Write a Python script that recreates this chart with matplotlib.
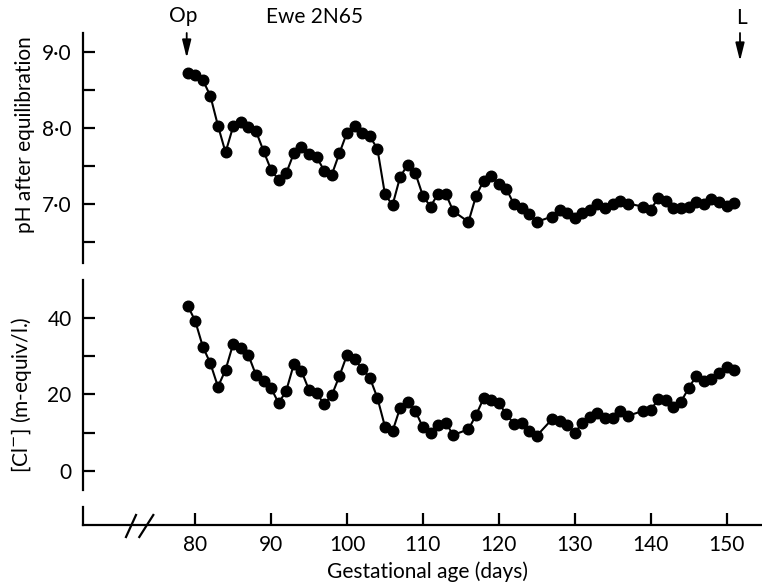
import matplotlib
matplotlib.use("Agg")
import matplotlib.pyplot as plt
from matplotlib.lines import Line2D
from matplotlib.patches import FancyArrowPatch

plt.rcParams['font.family'] = ['Lato', 'DejaVu Sans']

# Sampling days (gestational age) and measurements for ewe 2N65
days = [79, 80, 81, 82, 83, 84, 85, 86, 87, 88, 89, 90, 91, 92, 93, 94, 95, 96,
        97, 98, 99, 100, 101, 102, 103, 104, 105, 106, 107, 108, 109, 110, 111,
        112, 113, 114, 116, 117, 118, 119, 120, 121, 122, 123, 124, 125, 127,
        128, 129, 130, 131, 132, 133, 134, 135, 136, 137, 139, 140, 141, 142,
        143, 144, 145, 146, 147, 148, 149, 150, 151]

ph = [8.72, 8.70, 8.63, 8.42, 8.03, 7.68, 8.02, 8.08, 8.01, 7.96, 7.70, 7.45,
      7.32, 7.41, 7.67, 7.75, 7.66, 7.62, 7.44, 7.39, 7.67, 7.94, 8.02, 7.93,
      7.89, 7.73, 7.13, 6.99, 7.36, 7.52, 7.41, 7.11, 6.97, 7.14, 7.14, 6.91,
      6.77, 7.11, 7.31, 7.37, 7.26, 7.20, 7.00, 6.95, 6.87, 6.77, 6.84, 6.93,
      6.88, 6.82, 6.89, 6.93, 7.01, 6.95, 7.00, 7.04, 7.01, 6.97, 6.93, 7.08,
      7.04, 6.95, 6.95, 6.97, 7.03, 7.01, 7.07, 7.03, 6.98, 7.02]

chloride = [43.2, 39.2, 32.5, 28.1, 22.0, 26.4, 33.2, 32.2, 30.3, 25.1, 23.6,
            21.6, 17.7, 21.0, 27.9, 26.1, 21.1, 20.3, 17.4, 19.8, 24.8, 30.3,
            29.2, 26.6, 24.4, 19.1, 11.6, 10.4, 16.5, 18.0, 15.7, 11.4, 9.8,
            12.0, 12.6, 9.4, 10.9, 14.6, 19.0, 18.5, 17.7, 14.8, 12.3, 12.6,
            10.4, 9.2, 13.5, 13.1, 12.0, 10.0, 12.5, 14.2, 15.1, 13.8, 13.8,
            15.7, 14.4, 15.7, 15.9, 18.7, 18.5, 16.8, 18.1, 21.6, 24.8, 23.5,
            23.9, 25.5, 27.1, 26.4]

ph_ticks = [6.5, 7.0, 7.5, 8.0, 8.5, 9.0]
ph_ticklabels = ['', '7·0', '', '8·0', '', '9·0']
cl_ticks = [0, 10, 20, 30, 40]
cl_ticklabels = ['0', '', '20', '', '40']
age_ticks = [80, 90, 100, 110, 120, 130, 140, 150]
age_ticklabels = ['80', '90', '100', '110', '120', '130', '140', '150']

W, H = 762, 583
fig = plt.figure(figsize=(W / 100, H / 100), dpi=100)


def box(x0, y0, x1, y1):
    """Axes rectangle from pixel edges measured from the top-left corner."""
    return [x0 / W, 1 - y1 / H, (x1 - x0) / W, (y1 - y0) / H]


XLIM = (65.18, 154.54)
LW = 1.6
TICK_LEN = 8.5
FS = 15

ax_ph = fig.add_axes(box(82.7, 33, 761, 263))
ax_cl = fig.add_axes(box(82.7, 280, 761, 490))
ax_x = fig.add_axes(box(82.7, 506.5, 761, 525))

for ax in (ax_ph, ax_cl):
    ax.set_xlim(*XLIM)
    for side in ('top', 'right', 'bottom'):
        ax.spines[side].set_visible(False)
    ax.spines['left'].set_linewidth(LW)
    ax.set_xticks([])
    ax.tick_params(axis='y', direction='in', length=TICK_LEN, width=LW,
                   pad=8, labelsize=FS)
    ax.patch.set_alpha(0)

ax_ph.set_ylim(6.231, 9.245)
ax_ph.set_yticks(ph_ticks)
ax_ph.set_yticklabels(ph_ticklabels)
ax_ph.plot(days, ph, '-o', color='black', lw=1.5, ms=7.6, clip_on=False)

ax_cl.set_ylim(-4.96, 49.87)
ax_cl.set_yticks(cl_ticks)
ax_cl.set_yticklabels(cl_ticklabels)
ax_cl.plot(days, chloride, '-o', color='black', lw=1.5, ms=7.6, clip_on=False)

# Shared gestational-age axis with a broken origin
ax_x.set_xlim(*XLIM)
ax_x.set_ylim(0, 1)
ax_x.patch.set_alpha(0)
for side in ('top', 'right'):
    ax_x.spines[side].set_visible(False)
ax_x.spines['left'].set_linewidth(LW)
ax_x.spines['bottom'].set_linewidth(LW)
ax_x.set_yticks([])
ax_x.set_xticks(age_ticks)
ax_x.set_xticklabels(age_ticklabels)
ax_x.tick_params(axis='x', direction='in', length=TICK_LEN, width=LW,
                 pad=7, labelsize=FS)

for (xa, ya, xb, yb) in [(126, 537, 136, 515), (139.3, 537, 153.3, 515)]:
    fig.add_artist(Line2D([xa / W, xb / W], [1 - ya / H, 1 - yb / H],
                          transform=fig.transFigure, color='black', lw=LW))

# Axis titles
fig.text(25 / W, 1 - 135 / H, 'pH after equilibration', rotation=90,
         ha='center', va='center', fontsize=FS)
fig.text(22 / W, 1 - 395 / H, '[Cl$^{-}$] (m-equiv/l.)', rotation=90,
         ha='center', va='center', fontsize=FS)
fig.text(427.5 / W, 1 - 572 / H, 'Gestational age (days)',
         ha='center', va='center', fontsize=FS)

# Heading and event markers
fig.text(315 / W, 1 - 17 / H, 'Ewe 2N65', ha='center', va='center',
         fontsize=15)
fig.text(183 / W, 1 - 16 / H, 'Op', ha='center', va='center', fontsize=15)
fig.text(741 / W, 1 - 18 / H, 'L', ha='center', va='center', fontsize=15)
for (xa, ya, yb) in [(186.7, 33, 58), (740, 33, 61)]:
    fig.add_artist(FancyArrowPatch(
        (xa / W, 1 - ya / H), (xa / W, 1 - yb / H),
        transform=fig.transFigure,
        arrowstyle='-|>,head_width=0.15,head_length=0.6',
        mutation_scale=18, color='black', lw=1.3, shrinkA=0, shrinkB=0))

fig.savefig('out.png', dpi=100)
